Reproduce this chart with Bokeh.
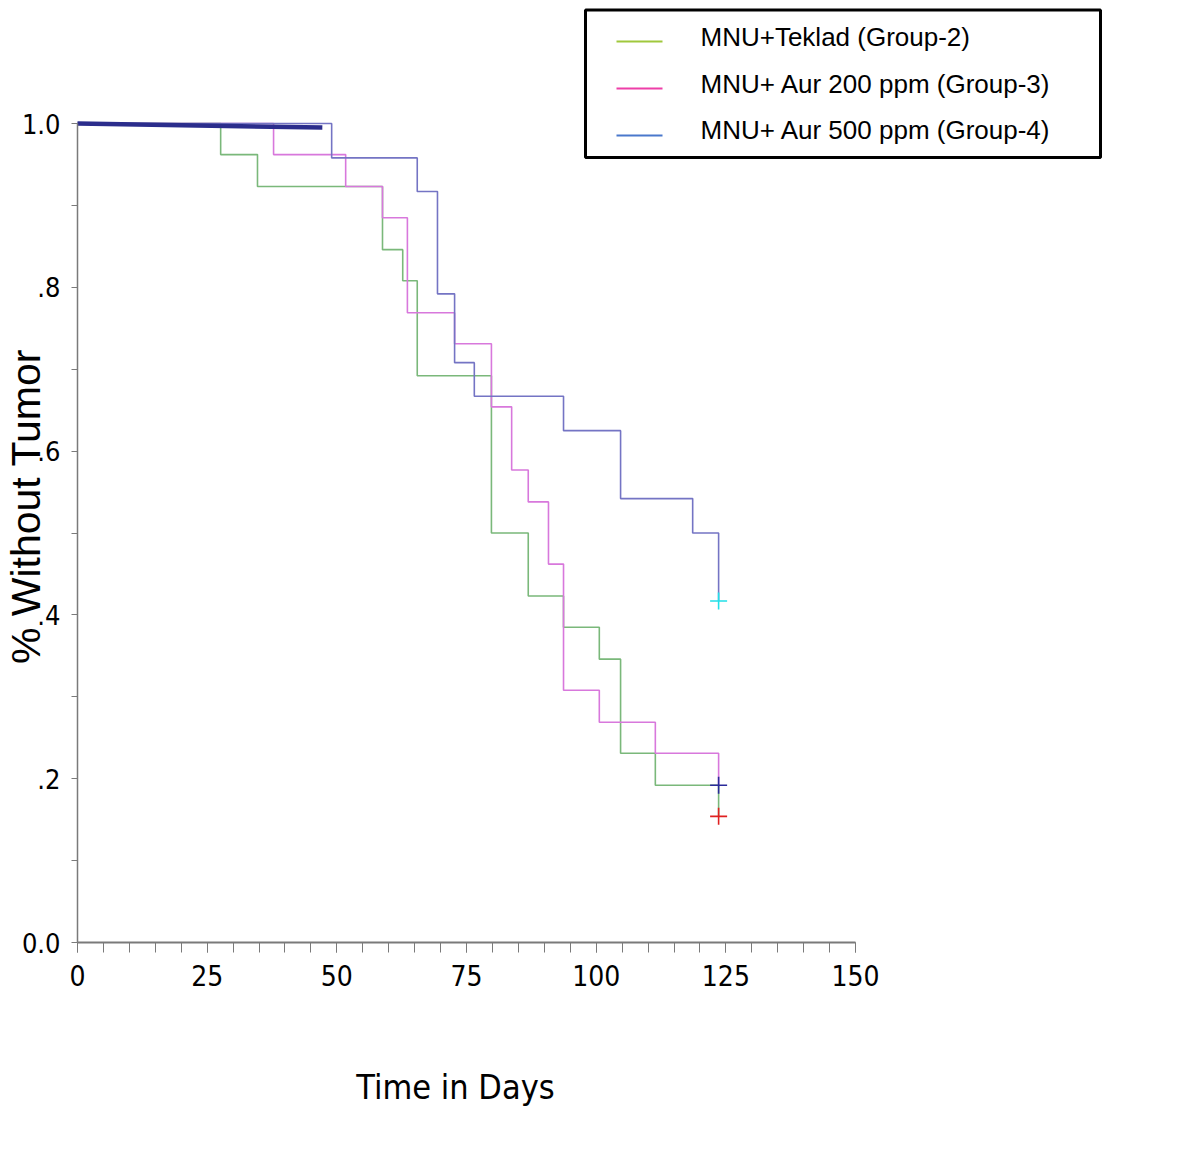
import math
from bokeh.plotting import figure
from bokeh.models import Range1d, FixedTicker
from bokeh.core.properties import value
from bokeh.embed import file_html
from bokeh.resources import INLINE

# ---------------- data ----------------
g2_days = [0, 27.6, 34.7, 58.8, 62.7, 65.5, 79.8, 86.9, 93.7, 100.6, 104.7, 111.4, 123.6]
g2_surv = [1.0, 0.962, 0.923, 0.846, 0.808, 0.692, 0.500, 0.423, 0.385, 0.346, 0.231, 0.192, 0.154]

g3_days = [0, 37.8, 51.7, 58.8, 63.6, 72.7, 79.8, 83.7, 86.9, 90.8, 93.7, 100.6, 111.4, 123.6]
g3_surv = [1.0, 0.962, 0.923, 0.885, 0.769, 0.731, 0.654, 0.577, 0.538, 0.462, 0.308, 0.269, 0.231, 0.192]

g4_days = [0, 49.0, 65.5, 69.4, 72.7, 76.5, 93.7, 104.7, 118.6, 123.6]
g4_surv = [1.0, 0.958, 0.917, 0.792, 0.708, 0.667, 0.625, 0.542, 0.500, 0.417]

# thick overlay segment at the top
overlay_days = [0, 47.2]
overlay_surv = [1.0, 0.995]

# censoring marks at end of follow-up
censor_days = [123.6, 123.6, 123.6]
censor_surv = [0.417, 0.192, 0.154]
censor_colors = ["#22e0e8", "#2a2a9a", "#e02020"]

legend_labels = ["MNU+Teklad (Group-2)", "MNU+ Aur  200 ppm (Group-3)", "MNU+ Aur 500 ppm (Group-4)"]
legend_colors = ["#a0c83c", "#ee3fa8", "#4a78cc"]
curve_colors = ["#7ab87a", "#d878dc", "#7474c4"]

x_ticks = [0, 25, 50, 75, 100, 125, 150]
x_minor = list(range(0, 151, 5))
y_ticks = [0.0, 0.2, 0.4, 0.6, 0.8, 1.0]
y_minor = [0.1, 0.3, 0.5, 0.7, 0.9]
y_tick_labels = {0.0: "0.0", 0.2: ".2", 0.4: ".4", 0.6: ".6", 0.8: ".8", 1.0: "1.0"}

x_title = "Time in Days"
y_title = "% Without Tumor"

# ---------------- layout (page pixels -> data) ----------------
W, H = 1184, 1146
OFF = 0                # page offset of canvas
X0, XS = 77.0, 5.187   # page x of day 0, px per day
Y0, YS = 942.0, 819.0  # page y of 0.0, px per unit

def dx(px):
    return (px - X0) / XS

def dy(py):
    return (Y0 - py) / YS

p = figure(width=W, height=H, output_backend="svg", toolbar_location=None,
           x_range=Range1d(dx(OFF), dx(OFF + W)), y_range=Range1d(dy(OFF + H), dy(OFF)),
           min_border=0, min_border_left=0, min_border_right=0,
           min_border_top=0, min_border_bottom=0, title=None)
p.outline_line_color = None
p.xgrid.visible = False
p.ygrid.visible = False
p.background_fill_color = "white"
p.border_fill_color = "white"

axis_gray = "#7a7a7a"
narrow = "DejaVu Sans Condensed"

xa = p.xaxis[0]
xa.fixed_location = 0
xa.bounds = (0, 150)
xa.ticker = FixedTicker(ticks=x_ticks, minor_ticks=x_minor)
xa.axis_line_color = axis_gray
xa.axis_line_width = 2
xa.major_tick_line_color = axis_gray
xa.minor_tick_line_color = axis_gray
xa.major_tick_in = 0
xa.major_tick_out = 10
xa.minor_tick_in = 0
xa.minor_tick_out = 10
xa.major_label_text_font = narrow
xa.major_label_text_font_size = "28px"
xa.major_label_text_color = "black"
xa.major_label_standoff = 12

ya = p.yaxis[0]
ya.fixed_location = 0
ya.bounds = (0, 1)
ya.ticker = FixedTicker(ticks=y_ticks, minor_ticks=y_minor)
ya.major_label_overrides = y_tick_labels
ya.axis_line_color = axis_gray
ya.axis_line_width = 1.5
ya.major_tick_line_color = axis_gray
ya.minor_tick_line_color = axis_gray
ya.major_tick_in = 0
ya.major_tick_out = 6
ya.minor_tick_in = 0
ya.minor_tick_out = 6
ya.major_label_text_font = narrow
ya.major_label_text_font_size = "27px"
ya.major_label_text_color = "black"
ya.major_label_standoff = 11

# ---------------- curves ----------------
for d, s, c in [(g2_days, g2_surv, curve_colors[0]),
                (g3_days, g3_surv, curve_colors[1]),
                (g4_days, g4_surv, curve_colors[2])]:
    p.step(d, s, mode="after", line_color=c, line_width=1.6)

p.line(overlay_days, overlay_surv, line_color="#2b2d8c", line_width=4.5)

p.scatter(censor_days, censor_surv, marker="cross", size=17,
          line_color=censor_colors, line_width=1.6)

# ---------------- titles ----------------
p.text(x=[dx(25)], y=[dy(506)], text=[y_title], angle=math.pi / 2,
       text_font=value("Liberation Sans"), text_font_size="41px",
       text_align="center", text_baseline="middle", text_color="black")
p.text(x=[dx(455)], y=[dy(1086)], text=[x_title],
       text_font=value(narrow), text_font_size="34px",
       text_align="center", text_baseline="middle", text_color="black")

# ---------------- legend box ----------------
p.quad(left=[dx(585)], right=[dx(1100)], top=[dy(9.5)], bottom=[dy(157)],
       fill_color=None, line_color="black", line_width=3)
row_text_y = [36, 83, 129]
row_line_y = [41, 88, 135]
p.segment(x0=[dx(616)] * 3, x1=[dx(662)] * 3,
          y0=[dy(v) for v in row_line_y], y1=[dy(v) for v in row_line_y],
          line_color=legend_colors, line_width=2)
p.text(x=[dx(700)] * 3, y=[dy(v) for v in row_text_y], text=legend_labels,
       text_font=value("Liberation Sans"), text_font_size="26px",
       text_align="left", text_baseline="middle", text_color="black")

open("out.html", "w").write(file_html(p, INLINE))
